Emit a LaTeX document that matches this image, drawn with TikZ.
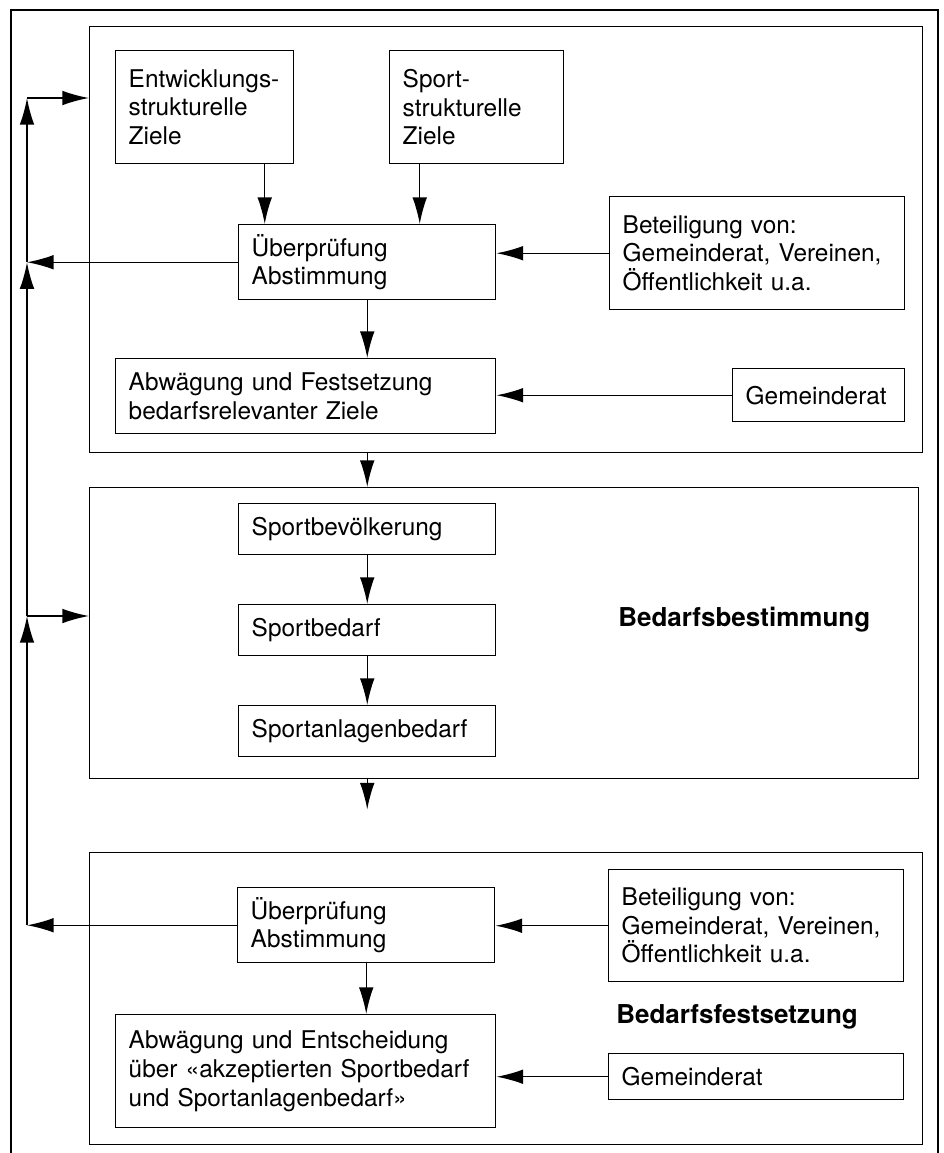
\documentclass[tikz,border=0pt]{standalone}
\usepackage{fontspec}
\setmainfont{TeX Gyre Heros}
\usetikzlibrary{arrows.meta}
\tikzset{
  kasten/.style 2 args={draw, line width=1.1pt, rectangle, anchor=north west, align=left,
    inner xsep=9.75pt, inner ysep=0pt, text width=#1, minimum height=#2,
    font=\fontsize{18.3}{21.4}\selectfont},
  feld/.style 2 args={draw, line width=1.1pt, rectangle, anchor=north west, inner sep=0pt,
    minimum width=#1, minimum height=#2},
  titel/.style={anchor=west, inner sep=0pt, font=\fontsize{19.5}{22}\selectfont\bfseries},
  pfeil/.style={-{Latex[length=20pt,width=11pt]}, line width=1.1pt},
}
\begin{document}
\begin{tikzpicture}[x=0.75pt,y=-0.75pt]
\useasboundingbox (0,0) rectangle (944,1153);
%% outer frame
\draw[line width=1.1pt] (11,1153) -- (11,10) -- (938,10) -- (938,1153);
%% first panel: Ziele
\node[feld={624.75pt}{319.5pt}] (feld1) at (89,26) {};
\node[kasten={114pt}{84.75pt}] (entw) at (115,50) {Entwicklungs-\\strukturelle\\Ziele};
\node[kasten={111pt}{84.75pt}] (sportz) at (389,50) {Sport-\\strukturelle\\Ziele};
\node[kasten={173.25pt}{56.25pt}] (pruef1) at (238,224) {Überprüfung\\Abstimmung};
\node[kasten={201.75pt}{84.75pt}] (beteil1) at (609,196) {Beteiligung von:\\Gemeinderat, Vereinen,\\Öffentlichkeit u.a.};
\node[kasten={265.5pt}{56.25pt}] (abw1) at (115,358) {Abwägung und Festsetzung\\bedarfsrelevanter Ziele};
\node[kasten={109.5pt}{39.75pt}] (gemrat1) at (732,368) {Gemeinderat};
\draw[pfeil] ([xshift=45pt]entw.south) coordinate (a1) -- (a1 |- pruef1.north);
\draw[pfeil] ([xshift=-42.75pt]sportz.south) coordinate (a2) -- (a2 |- pruef1.north);
\draw[pfeil] (beteil1.west) -- (beteil1.west -| pruef1.east);
\draw[pfeil] (pruef1.south) -- (pruef1.south |- abw1.north);
\draw[pfeil] (gemrat1.west) -- (gemrat1.west -| abw1.east);
%% second panel: Bedarfsbestimmung
\node[feld={621.75pt}{218.25pt}] (feld2) at (89,487) {};
\node[kasten={173.25pt}{38.25pt}] (bevoelk) at (238,503) {Sportbevölkerung};
\node[kasten={173.25pt}{38.25pt}] (bedarf) at (238,604) {Sportbedarf};
\node[kasten={173.25pt}{38.25pt}] (anlagen) at (238,705) {Sportanlagenbedarf};
\node[titel] (bestimm) at (618,620) {Bedarfsbestimmung};
\draw[pfeil] (bevoelk) -- (bedarf);
\draw[pfeil] (bedarf) -- (anlagen);
\draw[pfeil] (feld1.south -| pruef1.south) -- (feld2.north -| pruef1.south);
%% third panel: Bedarfsfestsetzung
\node[feld={624.75pt}{219pt}] (feld3) at (89,852) {};
\node[kasten={173.25pt}{56.25pt}] (pruef2) at (237,887) {Überprüfung\\Abstimmung};
\node[kasten={201.75pt}{84pt}] (beteil2) at (608,869) {Beteiligung von:\\Gemeinderat, Vereinen,\\Öffentlichkeit u.a.};
\node[kasten={265.5pt}{84.75pt}] (abw2) at (115,1014) {Abwägung und Entscheidung\\über «akzeptierten Sportbedarf\\und Sportanlagenbedarf»};
\node[kasten={201.75pt}{34.5pt}] (gemrat2) at (608,1053) {Gemeinderat};
\node[titel] (festsetz) at (616,1017) {Bedarfsfestsetzung};
\draw[pfeil] (beteil2.west) -- (beteil2.west -| pruef2.east);
\draw[pfeil] (pruef2.south) -- (pruef2.south |- abw2.north);
\draw[pfeil] (gemrat2.west) -- (gemrat2.west -| abw2.east);
\draw[pfeil] (feld2.south -| anlagen.south) -- ++(0,30);
%% feedback line on the left
\coordinate (links) at (27,0);
\coordinate (k1) at (27,98);
\coordinate (k3) at (27,616);
\draw[pfeil] (pruef1.west) -- (pruef1.west -| links) coordinate (k2);
\draw[pfeil] (pruef2.west) -- (pruef2.west -| links) coordinate (k4);
\draw[pfeil] (k4) -- (k3);
\draw[pfeil] (k3) -- (k2);
\draw[pfeil] (k2) -- (k1);
\draw[pfeil] (k1) -- (k1 -| feld1.west);
\draw[pfeil] (k3) -- (k3 -| feld2.west);
\end{tikzpicture}
\end{document}
